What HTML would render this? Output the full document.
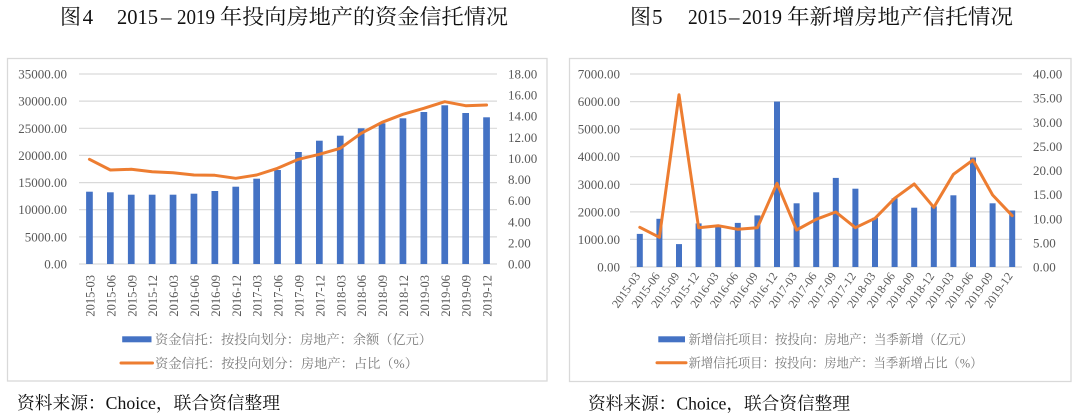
<!DOCTYPE html>
<html><head><meta charset="utf-8"><style>
html,body{margin:0;padding:0;background:#fff;}
svg{display:block;}
.ax{font-family:"Liberation Serif","Noto Serif CJK SC",serif;font-size:13px;fill:#595959;}
.xl{font-family:"Liberation Serif",serif;font-size:12.5px;fill:#595959;}
.xr{font-family:"Liberation Serif",serif;font-size:12px;fill:#595959;}
.lg{font-family:"Liberation Serif","Noto Serif CJK SC",serif;font-size:13px;fill:#7a7a7a;}
.tt{font-family:"Liberation Serif","Noto Serif CJK SC",serif;font-size:21px;fill:#111;}
.ft{font-family:"Liberation Serif","Noto Serif CJK SC",serif;font-size:17.5px;fill:#111;}
</style></head><body>
<svg width="1080" height="417" viewBox="0 0 1080 417" xmlns="http://www.w3.org/2000/svg">
<rect width="1080" height="417" fill="#fff"/>

<!-- Titles -->
<text class="tt" x="60" y="24">图</text>
<text class="tt" x="82.6" y="24">4</text>
<text class="tt" x="117" y="24" textLength="41" lengthAdjust="spacingAndGlyphs">2015</text>
<text class="tt" x="161" y="24">–</text>
<text class="tt" x="177" y="24" textLength="38" lengthAdjust="spacingAndGlyphs">2019</text>
<text class="tt" x="220" y="24" textLength="288" lengthAdjust="spacingAndGlyphs">年投向房地产的资金信托情况</text>

<text class="tt" x="630" y="24">图</text>
<text class="tt" x="652" y="24">5</text>
<text class="tt" x="688" y="24" textLength="39" lengthAdjust="spacingAndGlyphs">2015</text>
<text class="tt" x="729" y="24">–</text>
<text class="tt" x="742" y="24" textLength="40" lengthAdjust="spacingAndGlyphs">2019</text>
<text class="tt" x="787" y="24" textLength="226" lengthAdjust="spacingAndGlyphs">年新增房地产信托情况</text>

<!-- Boxes -->
<rect x="7.5" y="58.5" width="539.5" height="322.5" fill="none" stroke="#d9d9d9" stroke-width="1.3"/>
<rect x="569.5" y="58.5" width="501.5" height="323" fill="none" stroke="#d9d9d9" stroke-width="1.3"/>

<!-- ============ LEFT CHART ============ -->
<g stroke="#d9d9d9" stroke-width="1.2">
<line x1="79" x2="497" y1="74" y2="74"/>
<line x1="79" x2="497" y1="101.1" y2="101.1"/>
<line x1="79" x2="497" y1="128.3" y2="128.3"/>
<line x1="79" x2="497" y1="155.4" y2="155.4"/>
<line x1="79" x2="497" y1="182.6" y2="182.6"/>
<line x1="79" x2="497" y1="209.7" y2="209.7"/>
<line x1="79" x2="497" y1="236.9" y2="236.9"/>
<line x1="79" x2="497" y1="264" y2="264"/>
</g>
<g class="ax" text-anchor="end">
<text x="67" y="78.5">35000.00</text>
<text x="67" y="105.6">30000.00</text>
<text x="67" y="132.8">25000.00</text>
<text x="67" y="159.9">20000.00</text>
<text x="67" y="187.1">15000.00</text>
<text x="67" y="214.2">10000.00</text>
<text x="67" y="241.4">5000.00</text>
<text x="67" y="268.5">0.00</text>
</g>
<g class="ax">
<text x="508" y="78.5">18.00</text>
<text x="508" y="99.6">16.00</text>
<text x="508" y="120.7">14.00</text>
<text x="508" y="141.8">12.00</text>
<text x="508" y="162.9">10.00</text>
<text x="508" y="184.1">8.00</text>
<text x="508" y="205.2">6.00</text>
<text x="508" y="226.3">4.00</text>
<text x="508" y="247.4">2.00</text>
<text x="508" y="268.5">0.00</text>
</g>
<g fill="#4472C4">
<rect x="86.1" y="191.7" width="6.7" height="72.3"/>
<rect x="107.0" y="192.3" width="6.7" height="71.7"/>
<rect x="127.9" y="194.7" width="6.7" height="69.3"/>
<rect x="148.8" y="194.7" width="6.7" height="69.3"/>
<rect x="169.7" y="194.7" width="6.7" height="69.3"/>
<rect x="190.6" y="193.7" width="6.7" height="70.3"/>
<rect x="211.5" y="191" width="6.7" height="73"/>
<rect x="232.4" y="186.7" width="6.7" height="77.3"/>
<rect x="253.3" y="178.7" width="6.7" height="85.3"/>
<rect x="274.2" y="170" width="6.7" height="94"/>
<rect x="295.1" y="152" width="6.7" height="112"/>
<rect x="316.0" y="140.7" width="6.7" height="123.3"/>
<rect x="336.9" y="135.7" width="6.7" height="128.3"/>
<rect x="357.8" y="128.3" width="6.7" height="135.7"/>
<rect x="378.7" y="123.3" width="6.7" height="140.7"/>
<rect x="399.6" y="118.3" width="6.7" height="145.7"/>
<rect x="420.5" y="112" width="6.7" height="152"/>
<rect x="441.4" y="105.3" width="6.7" height="158.7"/>
<rect x="462.3" y="113" width="6.7" height="151"/>
<rect x="483.2" y="117.3" width="6.7" height="146.7"/>
</g>
<polyline fill="none" stroke="#ED7D31" stroke-width="3" stroke-linejoin="round" stroke-linecap="round"
points="89.45,159.3 110.35,170 131.25,169.3 152.15,171.7 173.05,172.7 193.95,175 214.85,175.3 235.75,178.3 256.65,175 277.55,168.3 298.45,159.3 319.35,154.3 340.25,148.3 361.15,133.3 382.05,122.3 402.95,114.3 423.85,108.3 444.75,101.7 465.65,105.7 486.55,105"/>
<g class="xl" text-anchor="end">
<text transform="translate(94.5,275) rotate(-90)">2015-03</text>
<text transform="translate(115.4,275) rotate(-90)">2015-06</text>
<text transform="translate(136.3,275) rotate(-90)">2015-09</text>
<text transform="translate(157.2,275) rotate(-90)">2015-12</text>
<text transform="translate(178.1,275) rotate(-90)">2016-03</text>
<text transform="translate(199.0,275) rotate(-90)">2016-06</text>
<text transform="translate(219.9,275) rotate(-90)">2016-09</text>
<text transform="translate(240.8,275) rotate(-90)">2016-12</text>
<text transform="translate(261.7,275) rotate(-90)">2017-03</text>
<text transform="translate(282.6,275) rotate(-90)">2017-06</text>
<text transform="translate(303.5,275) rotate(-90)">2017-09</text>
<text transform="translate(324.4,275) rotate(-90)">2017-12</text>
<text transform="translate(345.3,275) rotate(-90)">2018-03</text>
<text transform="translate(366.2,275) rotate(-90)">2018-06</text>
<text transform="translate(387.1,275) rotate(-90)">2018-09</text>
<text transform="translate(408.0,275) rotate(-90)">2018-12</text>
<text transform="translate(428.9,275) rotate(-90)">2019-03</text>
<text transform="translate(449.8,275) rotate(-90)">2019-06</text>
<text transform="translate(470.7,275) rotate(-90)">2019-09</text>
<text transform="translate(491.6,275) rotate(-90)">2019-12</text>
</g>
<rect x="122.2" y="336.3" width="29.3" height="6" fill="#4472C4"/>
<text class="lg" x="155" y="344" textLength="277" lengthAdjust="spacingAndGlyphs">资金信托：按投向划分：房地产：余额（亿元）</text>
<line x1="121" x2="152.5" y1="363" y2="363" stroke="#ED7D31" stroke-width="3" stroke-linecap="round"/>
<text class="lg" x="155" y="368" textLength="263" lengthAdjust="spacingAndGlyphs">资金信托：按投向划分：房地产：占比（%）</text>

<!-- ============ RIGHT CHART ============ -->
<g stroke="#d9d9d9" stroke-width="1.2">
<line x1="630" x2="1022" y1="74" y2="74"/>
<line x1="630" x2="1022" y1="101.6" y2="101.6"/>
<line x1="630" x2="1022" y1="129.1" y2="129.1"/>
<line x1="630" x2="1022" y1="156.7" y2="156.7"/>
<line x1="630" x2="1022" y1="184.3" y2="184.3"/>
<line x1="630" x2="1022" y1="211.9" y2="211.9"/>
<line x1="630" x2="1022" y1="239.4" y2="239.4"/>
<line x1="630" x2="1022" y1="267" y2="267"/>
</g>
<g class="ax" text-anchor="end">
<text x="620" y="78.5">7000.00</text>
<text x="620" y="106.1">6000.00</text>
<text x="620" y="133.6">5000.00</text>
<text x="620" y="161.2">4000.00</text>
<text x="620" y="188.8">3000.00</text>
<text x="620" y="216.4">2000.00</text>
<text x="620" y="243.9">1000.00</text>
<text x="620" y="271.5">0.00</text>
</g>
<g class="ax">
<text x="1033" y="78.5">40.00</text>
<text x="1033" y="102.6">35.00</text>
<text x="1033" y="126.8">30.00</text>
<text x="1033" y="150.9">25.00</text>
<text x="1033" y="175">20.00</text>
<text x="1033" y="199.1">15.00</text>
<text x="1033" y="223.3">10.00</text>
<text x="1033" y="247.4">5.00</text>
<text x="1033" y="271.5">0.00</text>
</g>
<g fill="#4472C4">
<rect x="636.8" y="233.9" width="6" height="33.1"/>
<rect x="656.4" y="218.8" width="6" height="48.2"/>
<rect x="676.0" y="244.1" width="6" height="22.9"/>
<rect x="695.6" y="223.4" width="6" height="43.6"/>
<rect x="715.2" y="225.6" width="6" height="41.4"/>
<rect x="734.8" y="222.9" width="6" height="44.1"/>
<rect x="754.4" y="215.4" width="6" height="51.6"/>
<rect x="774.0" y="101.6" width="6" height="165.4"/>
<rect x="793.6" y="203.3" width="6" height="63.7"/>
<rect x="813.2" y="192.3" width="6" height="74.7"/>
<rect x="832.8" y="177.9" width="6" height="89.1"/>
<rect x="852.4" y="188.7" width="6" height="78.3"/>
<rect x="872.0" y="217.9" width="6" height="49.1"/>
<rect x="891.6" y="198.3" width="6" height="68.7"/>
<rect x="911.2" y="207.7" width="6" height="59.3"/>
<rect x="930.8" y="206.3" width="6" height="60.7"/>
<rect x="950.4" y="195.3" width="6" height="71.7"/>
<rect x="970.0" y="157.5" width="6" height="109.5"/>
<rect x="989.6" y="203.3" width="6" height="63.7"/>
<rect x="1009.2" y="210.5" width="6" height="56.5"/>
</g>
<polyline fill="none" stroke="#ED7D31" stroke-width="3" stroke-linejoin="round" stroke-linecap="round"
points="639.8,227.3 659.4,237.3 679.0,94.7 698.6,227.7 718.2,225.7 737.8,229.3 757.4,227.7 777.0,183.3 796.6,230 816.2,219.3 835.8,212 855.4,227.7 875.0,218.3 894.6,198.3 914.2,184 933.8,207.3 953.4,174.3 973.0,160 992.6,195 1012.2,215.7"/>
<g class="xr" text-anchor="end">
<text transform="translate(640.8,276) rotate(-55)">2015-03</text>
<text transform="translate(660.4,276) rotate(-55)">2015-06</text>
<text transform="translate(680.0,276) rotate(-55)">2015-09</text>
<text transform="translate(699.6,276) rotate(-55)">2015-12</text>
<text transform="translate(719.2,276) rotate(-55)">2016-03</text>
<text transform="translate(738.8,276) rotate(-55)">2016-06</text>
<text transform="translate(758.4,276) rotate(-55)">2016-09</text>
<text transform="translate(778.0,276) rotate(-55)">2016-12</text>
<text transform="translate(797.6,276) rotate(-55)">2017-03</text>
<text transform="translate(817.2,276) rotate(-55)">2017-06</text>
<text transform="translate(836.8,276) rotate(-55)">2017-09</text>
<text transform="translate(856.4,276) rotate(-55)">2017-12</text>
<text transform="translate(876.0,276) rotate(-55)">2018-03</text>
<text transform="translate(895.6,276) rotate(-55)">2018-06</text>
<text transform="translate(915.2,276) rotate(-55)">2018-09</text>
<text transform="translate(934.8,276) rotate(-55)">2018-12</text>
<text transform="translate(954.4,276) rotate(-55)">2019-03</text>
<text transform="translate(974.0,276) rotate(-55)">2019-06</text>
<text transform="translate(993.6,276) rotate(-55)">2019-09</text>
<text transform="translate(1013.2,276) rotate(-55)">2019-12</text>
</g>
<rect x="658.3" y="336.3" width="26.7" height="6" fill="#4472C4"/>
<text class="lg" x="688.5" y="344" textLength="284.5" lengthAdjust="spacingAndGlyphs">新增信托项目：按投向：房地产：当季新增（亿元）</text>
<line x1="657" x2="686" y1="362.7" y2="362.7" stroke="#ED7D31" stroke-width="3" stroke-linecap="round"/>
<text class="lg" x="688.5" y="367.7" textLength="294" lengthAdjust="spacingAndGlyphs">新增信托项目：按投向：房地产：当季新增占比（%）</text>

<!-- Footers -->
<text class="ft" x="17" y="409" textLength="263" lengthAdjust="spacingAndGlyphs">资料来源：Choice，联合资信整理</text>
<text class="ft" x="588" y="409.5" textLength="262" lengthAdjust="spacingAndGlyphs">资料来源：Choice，联合资信整理</text>
</svg>
</body></html>
